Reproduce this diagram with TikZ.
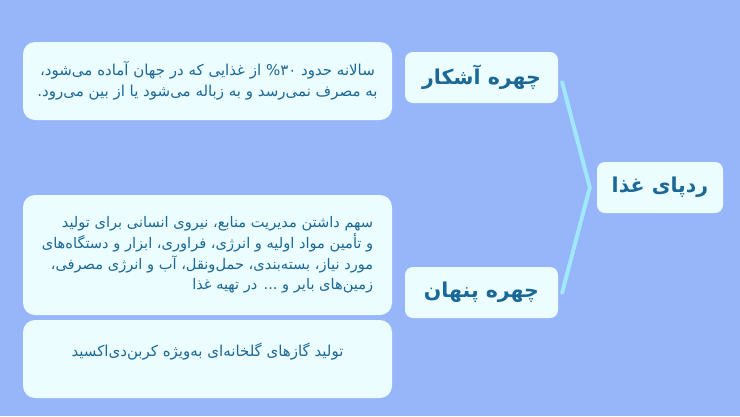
\documentclass[tikz,border=0pt]{standalone}
\usepackage{fontspec}
\usepackage{color}
\usepackage{tikz}
\TeXXeTstate=1
\newfontfamily\farsi[Script=Arabic]{DejaVu Sans}
\definecolor{pageblue}{RGB}{151,182,250}
\definecolor{boxfill}{RGB}{236,253,255}
\definecolor{inkblue}{RGB}{27,104,150}
\definecolor{linkcyan}{RGB}{160,232,250}

\begin{document}
\begin{tikzpicture}[x=1pt, y=-1pt,
  textbox/.style={fill=boxfill, rounded corners=12pt, minimum width=369pt, text=inkblue,
    font=\farsi\fontsize{15}{20.5}\selectfont},
  titlebox/.style={fill=boxfill, rounded corners=8pt, minimum height=51pt, text=inkblue,
    font=\farsi\bfseries\fontsize{20.5}{22}\selectfont},
  link/.style={draw=linkcyan, line width=4pt, line cap=round, line join=round}]
\fill[pageblue] (0, 0) rectangle (740, 416);
%%------------
\node[titlebox, minimum width=126pt] (root) at (660, 187.5) {\beginR ردپای غذا\endR};
\node[titlebox, minimum width=153pt] (ashkar) at (481.5, 77.5) {\beginR چهره آشکار\endR};
\node[titlebox, minimum width=153pt] (penhan) at (481.5, 292.5) {\beginR چهره پنهان\endR};
%%------------
\node[textbox, minimum height=78pt, align=center] (ashkartext) at (207.5, 81)
  {\beginR سالانه حدود \beginL ۳۰\endL\% از غذایی که در جهان آماده می‌شود،\endR\\
   \beginR به مصرف نمی‌رسد و به زباله می‌شود یا از بین می‌رود.\endR};
\node[textbox, minimum height=120pt, align=right, font=\farsi\fontsize{14.6}{20.8}\selectfont]
  (penhantext) at (207.5, 255)
  {\beginR سهم داشتن مدیریت منابع، نیروی انسانی برای تولید\endR\\
   \beginR و تأمین مواد اولیه و انرژی، فراوری، ابزار و دستگاه‌های\endR\\
   \beginR مورد نیاز، بسته‌بندی، حمل‌ونقل، آب و انرژی مصرفی،\endR\\
   \beginR زمین‌های بایر و ... در تهیه غذا\endR};
\node[textbox, minimum height=78pt, text depth=18pt] (gastext) at (207.5, 359)
  {\beginR تولید گازهای گلخانه‌ای به‌ویژه کربن‌دی‌اکسید\endR};
%%------------
\coordinate (fork) at ([xshift=-7pt]root.west);
\draw[link] ([shift={(4, 5)}]ashkar.east) -- (fork) -- ([xshift=4pt]penhan.east);
\end{tikzpicture}
\end{document}
